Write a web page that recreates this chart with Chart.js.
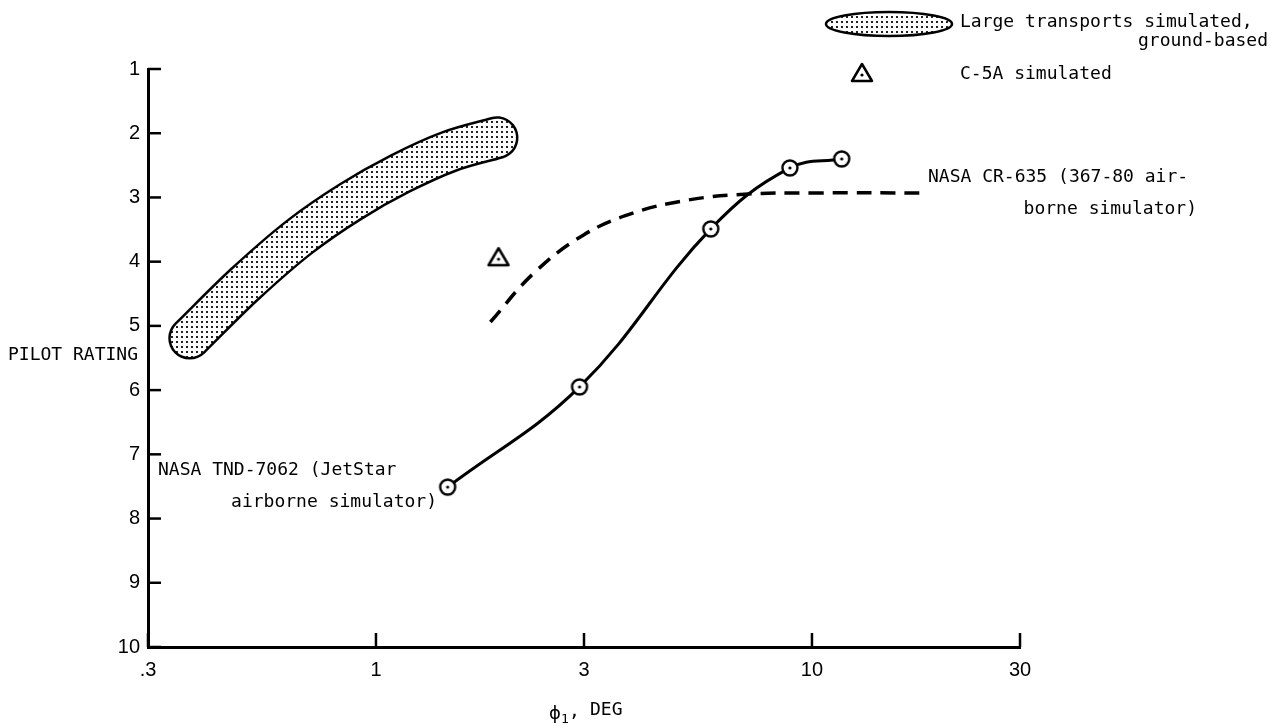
<!DOCTYPE html>
<html>
<head>
<meta charset="utf-8">
<script src="https://cdn.jsdelivr.net/npm/chart.js@4"></script>
<style>
    html, body { margin: 0; padding: 0; background: #fff; }
</style>
</head>
<body>
<canvas id="ratingChart" width="1273" height="726"></canvas>
<script>
// axis ticks
const xTicks = [0.3, 1, 3, 10, 30];
const xTickLabels = ['.3', '1', '3', '10', '30'];
const yTicks = [1, 2, 3, 4, 5, 6, 7, 8, 9, 10];

// NASA TND-7062 (JetStar airborne simulator)
const jetstarX = [1.46, 2.93, 5.86, 8.9, 11.7];
const jetstarY = [7.51, 5.95, 3.49, 2.54, 2.40];

// NASA CR-635 (367-80 airborne simulator), faired curve
const cr635X = [1.83, 2.3, 3.0, 3.9, 5.2, 7.0, 10, 18.5];
const cr635Y = [4.94, 4.18, 3.58, 3.24, 3.04, 2.95, 2.93, 2.93];

// C-5A simulated
const c5aX = [1.91];
const c5aY = [3.93];

// centre line of the ground-based large transport band
const bandX = [0.374, 0.50, 0.669, 0.872, 1.135, 1.478, 1.895];
const bandY = [5.19, 4.35, 3.61, 3.07, 2.63, 2.28, 2.07];

const toPoints = (xs, ys) => xs.map((x, i) => ({ x, y: ys[i] }));

Chart.defaults.font.family = "'Liberation Sans', Arial, sans-serif";
Chart.defaults.color = '#000';

const MONO = "'DejaVu Sans Mono', 'Liberation Mono', monospace";

function makeDotPattern(ctx) {
    const tile = document.createElement('canvas');
    tile.width = 5; tile.height = 5;
    const t = tile.getContext('2d');
    t.fillStyle = '#fff';
    t.fillRect(0, 0, 5, 5);
    t.fillStyle = '#222';
    t.fillRect(1, 1, 2, 2);
    return ctx.createPattern(tile, 'repeat');
}

function makeCircleMarker() {
    const c = document.createElement('canvas');
    c.width = 20; c.height = 20;
    const g = c.getContext('2d');
    g.beginPath();
    g.arc(10, 10, 7.5, 0, Math.PI * 2);
    g.fillStyle = '#fff';
    g.fill();
    g.lineWidth = 2.4;
    g.strokeStyle = '#000';
    g.stroke();
    g.beginPath();
    g.arc(10, 10, 1.6, 0, Math.PI * 2);
    g.fillStyle = '#000';
    g.fill();
    return c;
}

function makeTriangleMarker() {
    const c = document.createElement('canvas');
    c.width = 26; c.height = 24;
    const g = c.getContext('2d');
    g.beginPath();
    g.moveTo(13, 3);
    g.lineTo(23, 20);
    g.lineTo(3, 20);
    g.closePath();
    g.lineJoin = 'round';
    g.lineWidth = 2.5;
    g.strokeStyle = '#000';
    g.stroke();
    g.beginPath();
    g.arc(13, 14, 1.6, 0, Math.PI * 2);
    g.fillStyle = '#000';
    g.fill();
    return c;
}

const ctx = document.getElementById('ratingChart').getContext('2d');
const dots = makeDotPattern(ctx);
const circleMarker = makeCircleMarker();
const triangleMarker = makeTriangleMarker();

// inward ticks, free text, legend
const decorPlugin = {
    id: 'decor',
    afterDraw(chart) {
        const c = chart.ctx;
        const xs = chart.scales.x, ys = chart.scales.y;
        const area = chart.chartArea;
        c.save();
        c.strokeStyle = '#000';
        c.lineWidth = 2.5;
        yTicks.forEach(v => {
            const py = ys.getPixelForValue(v);
            c.beginPath();
            c.moveTo(area.left, py);
            c.lineTo(area.left + 13, py);
            c.stroke();
        });
        xTicks.forEach(v => {
            const px = xs.getPixelForValue(v);
            c.beginPath();
            c.moveTo(px, area.bottom);
            c.lineTo(px, area.bottom - 14);
            c.stroke();
        });

        c.fillStyle = '#000';
        c.font = `18px ${MONO}`;
        c.textBaseline = 'middle';
        c.textAlign = 'left';
        c.fillText('PILOT RATING', 8, 355);
        c.fillText('NASA CR-635 (367-80 air-', 928, 177);
        c.fillText('NASA TND-7062 (JetStar', 158, 470);
        c.textAlign = 'right';
        c.fillText('borne simulator)', 1197, 209);
        c.fillText('airborne simulator)', 437, 502);

        // x axis title: phi sub 1, DEG
        c.textAlign = 'left';
        c.font = "18px 'DejaVu Sans', sans-serif";
        c.fillText('ϕ', 549, 714);
        c.font = `13px ${MONO}`;
        c.fillText('1', 561, 720);
        c.font = `18px ${MONO}`;
        c.fillText(',', 569, 712);
        c.fillText('DEG', 590, 710);

        // legend
        c.beginPath();
        c.ellipse(889, 24, 63, 12, 0, 0, Math.PI * 2);
        c.fillStyle = dots;
        c.fill();
        c.lineWidth = 2.5;
        c.stroke();
        c.drawImage(triangleMarker, 849, 61);
        c.fillStyle = '#000';
        c.fillText('Large transports simulated,', 960, 22);
        c.fillText('C-5A simulated', 960, 74);
        c.textAlign = 'right';
        c.fillText('ground-based', 1268, 41);
        c.restore();
    }
};

new Chart(ctx, {
    type: 'scatter',
    data: {
        datasets: [
            {
                label: 'band fill',
                data: toPoints(bandX, bandY),
                showLine: true,
                borderColor: dots,
                borderWidth: 38,
                borderCapStyle: 'round',
                borderJoinStyle: 'round',
                cubicInterpolationMode: 'monotone',
                pointRadius: 0,
                order: 3
            },
            {
                label: 'band outline',
                data: toPoints(bandX, bandY),
                showLine: true,
                borderColor: '#000',
                borderWidth: 43,
                borderCapStyle: 'round',
                borderJoinStyle: 'round',
                cubicInterpolationMode: 'monotone',
                pointRadius: 0,
                order: 4
            },
            {
                label: 'NASA CR-635',
                data: toPoints(cr635X, cr635Y),
                showLine: true,
                borderColor: '#000',
                borderWidth: 3.5,
                borderDash: [15, 9],
                tension: 0.4,
                pointRadius: 0,
                order: 2
            },
            {
                label: 'NASA TND-7062',
                data: toPoints(jetstarX, jetstarY),
                showLine: true,
                borderColor: '#000',
                borderWidth: 3,
                tension: 0.4,
                pointStyle: circleMarker,
                pointRadius: 8,
                order: 1
            },
            {
                label: 'C-5A simulated',
                data: toPoints(c5aX, c5aY),
                showLine: false,
                pointStyle: triangleMarker,
                pointRadius: 10,
                order: 0
            }
        ]
    },
    options: {
        responsive: false,
        animation: false,
        layout: { padding: { left: 0, top: 69, right: 253, bottom: 0 } },
        plugins: {
            legend: { display: false },
            tooltip: { enabled: false }
        },
        scales: {
            x: {
                type: 'logarithmic',
                min: 0.3,
                max: 30,
                afterFit: s => { s.height = 79; },
                afterBuildTicks: s => { s.ticks = xTicks.map(v => ({ value: v })); },
                grid: { display: true, drawOnChartArea: false, drawTicks: false },
                border: { display: true, color: '#000', width: 3 },
                ticks: {
                    padding: 11,
                    autoSkip: false,
                    maxRotation: 0,
                    font: { size: 20 },
                    callback: (v) => xTickLabels[xTicks.indexOf(v)]
                }
            },
            y: {
                min: 1,
                max: 10,
                reverse: true,
                afterFit: s => { s.width = 148; },
                afterBuildTicks: s => { s.ticks = yTicks.map(v => ({ value: v })); },
                grid: { display: true, drawOnChartArea: false, drawTicks: false },
                border: { display: true, color: '#000', width: 3 },
                ticks: {
                    padding: 8,
                    font: { size: 20 }
                }
            }
        }
    },
    plugins: [decorPlugin]
});
</script>
</body>
</html>
